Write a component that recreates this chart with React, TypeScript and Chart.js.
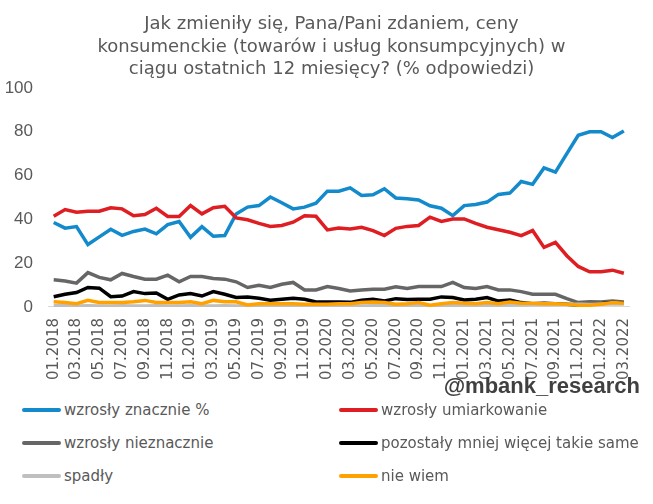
import React, { useEffect, useRef } from "react";
import { Chart, registerables } from "chart.js";

Chart.register(...registerables);

const months: string[] = [];
for (let y = 2018; y <= 2022; y++) {
  for (let m = 1; m <= 12; m++) {
    if (y === 2022 && m > 3) break;
    months.push(String(m).padStart(2, "0") + "." + y);
  }
}

const titleLines = [
  "Jak zmieniły się, Pana/Pani zdaniem, ceny",
  "konsumenckie (towarów i usług konsumpcyjnych) w",
  "ciągu ostatnich 12 miesięcy? (% odpowiedzi)",
];

const yTicks = [0, 20, 40, 60, 80, 100];

const znacznie = [
  38.6, 36, 36.7, 28.5, 32, 35.5, 32.7, 34.5, 35.6, 33.4, 37.6, 39,
  31.8, 36.7, 32.3, 32.6, 42.5, 45.6, 46.3, 50.2, 47.6, 44.8, 45.6, 47.4,
  52.9, 52.9, 54.4, 50.9, 51.2, 54, 49.8, 49.4, 48.9, 46.2, 45.1, 41.7,
  46.3, 46.8, 47.9, 51.4, 52, 57.3, 56, 63.5, 61.6, 70, 78.4, 80,
  80, 77.4, 80.4,
];
const umiarkowanie = [
  41.4, 44.5, 43.3, 43.7, 43.7, 45.3, 44.8, 41.7, 42.2, 45.1, 41.3, 41.3,
  46.3, 42.5, 45.3, 46, 40.7, 39.8, 38.2, 36.8, 37.2, 38.7, 41.7, 41.4,
  35.2, 36.1, 35.6, 36.4, 34.9, 32.6, 35.9, 36.8, 37.2, 41, 39.1, 40.2,
  40.2, 38.2, 36.4, 35.3, 34.1, 32.6, 34.9, 27.2, 29.5, 23.4, 18.5, 16.1,
  16.1, 16.8, 15.4,
];
const nieznacznie = [
  12.4, 11.9, 10.9, 15.7, 13.5, 12.4, 15.3, 13.9, 12.7, 12.7, 14.5, 11.5,
  13.9, 13.9, 13, 12.7, 11.5, 8.9, 9.9, 8.9, 10.4, 11.2, 7.8, 7.8,
  9.3, 8.4, 7.3, 7.8, 8.1, 8.1, 9.2, 8.4, 9.3, 9.3, 9.3, 11.2,
  8.9, 8.4, 9.3, 7.8, 7.8, 7, 5.8, 5.8, 5.8, 3.8, 2, 2.4,
  2.3, 2.7, 2.3,
];
const takieSame = [
  4.7, 5.8, 6.6, 8.9, 8.6, 4.7, 5, 7, 6.1, 6.4, 3.5, 5.5,
  6.1, 5, 7, 5.8, 4.3, 4.6, 4, 3.1, 3.5, 4, 3.5, 2.3,
  2.3, 2.3, 2.1, 3.1, 3.5, 2.7, 3.8, 3.4, 3.5, 3.5, 4.6, 4.3,
  3.2, 3.5, 4.3, 2.7, 3.2, 2, 1.5, 1.7, 1.5, 1.2, 0.9, 1.2,
  1.5, 2, 1.7,
];
const spadly = [
  0.6, 0.6, 0.5, 0.6, 0.5, 0.5, 0.6, 0.5, 0.5, 0.6, 0.5, 0.5,
  0.6, 0.5, 0.5, 0.6, 0.5, 0.5, 0.5, 0.6, 0.5, 0.5, 0.5, 0.6,
  0.5, 0.6, 0.6, 0.5, 0.6, 0.7, 0.6, 0.6, 0.7, 0.6, 0.7, 0.8,
  0.7, 0.8, 0.8, 0.8, 0.9, 0.9, 1.0, 1.0, 1.0, 1.1, 1.2, 1.2,
  1.4, 1.5, 1.4,
];
const nieWiem = [
  2.4, 2, 1.5, 3, 2, 2, 2, 2.4, 3, 2, 2, 2,
  2.4, 1.5, 3, 2.4, 2.4, 0.9, 1.5, 1.5, 1.5, 1.5, 1.2, 1.2,
  1.2, 1.5, 1.5, 2, 2.3, 2, 1.2, 1.5, 2, 0.8, 1.5, 2,
  1.7, 1.5, 2, 1.5, 2.3, 1.7, 1.7, 1.5, 1.5, 1.2, 0.8, 0.8,
  1.2, 2, 1.7,
];

const seriesNames = [
  "wzrosły znacznie %",
  "wzrosły umiarkowanie",
  "wzrosły nieznacznie",
  "pozostały mniej więcej takie same",
  "spadły",
  "nie wiem",
];
const seriesColors = ["#128ACB", "#DE1E22", "#666666", "#000000", "#BFBFBF", "#FFA200"];
const seriesData = [znacznie, umiarkowanie, nieznacznie, takieSame, spadly, nieWiem];

const GREY = "#595959";

export default function App() {
  const ref = useRef<HTMLCanvasElement | null>(null);

  useEffect(() => {
    if (!ref.current) return;
    const chart = new Chart(ref.current, {
      type: "line",
      data: {
        labels: months,
        datasets: seriesData.map((d, i) => ({
          label: seriesNames[i],
          data: d,
          borderColor: seriesColors[i],
          backgroundColor: seriesColors[i],
          borderWidth: 3.5,
          pointRadius: 0,
          tension: 0,
          order: 6 - i,
        })),
      },
      options: {
        animation: false,
        responsive: false,
        layout: { padding: { left: 0, right: 16, bottom: 0, top: 88 } },
        plugins: {
          legend: { display: false },
          tooltip: { enabled: false },
          title: { display: false },
        },
        scales: {
          x: {
            offset: true,
            grid: { display: false, drawTicks: false },
            border: { display: true, color: "#D9D9D9", width: 1 },
            ticks: {
              autoSkip: false,
              maxRotation: 90,
              minRotation: 90,
              padding: 11,
              color: GREY,
              font: { family: "DejaVu Sans", size: 15 },
              callback: (_v: any, idx: number) => (idx % 2 === 0 ? months[idx] : ""),
            },
          },
          y: {
            min: 0,
            max: 100,
            afterBuildTicks: (axis: any) => {
              axis.ticks = yTicks.map((v) => ({ value: v }));
            },
            afterFit: (axis: any) => {
              axis.width = 48;
            },
            grid: { display: false, drawTicks: false },
            border: { display: false },
            ticks: {
              padding: 15,
              color: GREY,
              font: { family: "Liberation Sans", size: 17 },
            },
          },
        },
      },
    });
    return () => chart.destroy();
  }, []);

  const legendRows = [0, 1, 2];
  return (
    <div
      style={{
        position: "absolute",
        left: 0,
        top: 0,
        width: 653,
        height: 504,
        background: "#fff",
        overflow: "hidden",
      }}
    >
      <canvas ref={ref} width={653} height={391} style={{ display: "block" }} />
      <div
        style={{
          position: "absolute",
          left: 0,
          top: 12,
          width: 663,
          textAlign: "center",
          fontFamily: "DejaVu Sans",
          fontSize: 18,
          lineHeight: "22.5px",
          color: GREY,
          whiteSpace: "nowrap",
        }}
      >
        {titleLines.map((t, i) => (
          <div key={i}>{t}</div>
        ))}
      </div>
      <div
        style={{
          position: "absolute",
          right: 13,
          top: 373,
          fontFamily: "Liberation Sans",
          fontWeight: "bold",
          fontSize: 22,
          color: "#404040",
        }}
      >
        @mbank_research
      </div>
      {legendRows.map((r) =>
        [0, 1].map((c) => {
          const i = r * 2 + c;
          return (
            <div
              key={i}
              style={{
                position: "absolute",
                left: c === 0 ? 22 : 339,
                top: 410 + r * 33 - 10,
                height: 20,
                display: "flex",
                alignItems: "center",
                fontFamily: "DejaVu Sans",
                fontSize: 15,
                color: GREY,
                whiteSpace: "nowrap",
              }}
            >
              <span
                style={{
                  display: "inline-block",
                  width: 39,
                  height: 4,
                  background: seriesColors[i],
                  borderRadius: 2,
                  marginRight: 3,
                }}
              />
              {seriesNames[i]}
            </div>
          );
        })
      )}
    </div>
  );
}
